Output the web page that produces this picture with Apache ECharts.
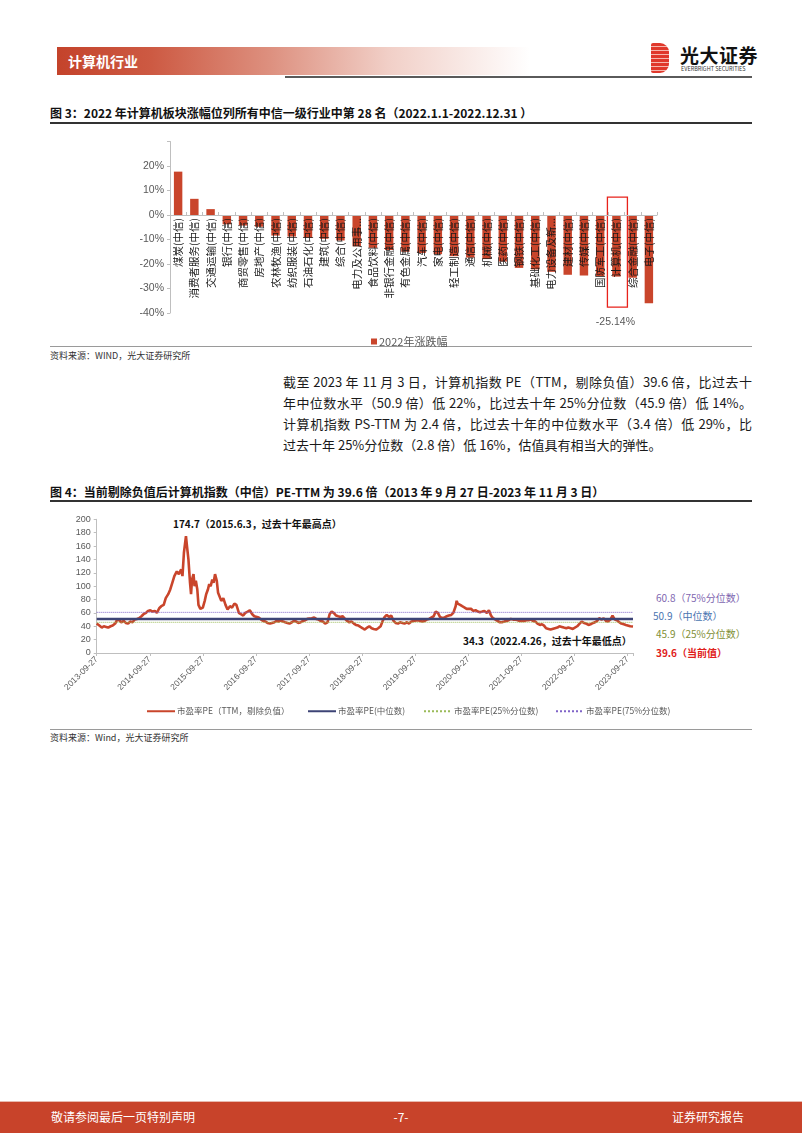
<!DOCTYPE html>
<html><head><meta charset="utf-8">
<script src="https://cdn.jsdelivr.net/npm/echarts@6/dist/echarts.min.js"></script>
<style>
html,body{margin:0;padding:0;background:#fff;}
body{width:802px;height:1133px;position:relative;overflow:hidden;font-family:"Noto Sans CJK SC","Noto Sans",sans-serif;color:#1a1a1a;}
.abs{position:absolute;white-space:nowrap;}
.rule{position:absolute;left:50px;width:702px;}
.ftitle{position:absolute;left:50px;font-size:12px;font-weight:bold;color:#111;line-height:16px;}
.src{position:absolute;left:50px;font-size:9px;color:#333;line-height:12px;}
.para{position:absolute;left:283px;width:469px;font-size:13px;line-height:21px;color:#1a1a1a;}
.para div{text-align:justify;text-align-last:justify;white-space:nowrap;}
.para div.last{text-align-last:left;}
.ann{position:absolute;white-space:nowrap;font-size:10px;font-weight:bold;line-height:12px;}
#chart{position:absolute;left:0;top:0;width:802px;height:1133px;}
</style></head><body>

<!-- header -->
<div class="abs" style="left:57px;top:47px;width:473px;height:28px;background:linear-gradient(to right,#C4432B 0%,#CD5A43 20%,#DD907F 45%,#F1CFC7 70%,#FFFFFF 100%);"></div>
<div class="abs" style="left:68px;top:51px;font-size:14px;font-weight:bold;color:#fff;line-height:20px;">计算机行业</div>
<div class="abs" style="left:285px;top:76px;width:467px;height:2px;background:#5a5a5a;"></div>
<div class="abs" style="left:651px;top:43px;width:18px;height:30px;border-radius:2px 9px 9px 2px;background:repeating-linear-gradient(to bottom,#E0382B 0px,#E0382B 3px,#F6B7AE 3px,#F6B7AE 4px);"></div>
<div class="abs" style="left:680px;top:44px;font-size:19px;font-weight:bold;color:#111;line-height:22px;letter-spacing:0.5px;">光大证券</div>
<div class="abs" style="left:681px;top:66px;font-size:5.5px;color:#333;line-height:7px;">EVERBRIGHT SECURITIES</div>

<!-- figure 3 -->
<div class="ftitle" style="top:105px;">图 3：2022 年计算机板块涨幅位列所有中信一级行业中第 28 名（2022.1.1-2022.12.31 ）</div>
<div class="rule" style="top:122px;height:1.5px;background:#333;"></div>
<div class="rule" style="top:346px;height:1px;background:#9a9a9a;"></div>
<div class="src" style="top:350px;">资料来源：WIND，光大证券研究所</div>

<div class="para" style="top:371px;">
<div>截至 2023 年 11 月 3 日，计算机指数 PE（TTM，剔除负值）39.6 倍，比过去十</div>
<div>年中位数水平（50.9 倍）低 22%，比过去十年 25%分位数（45.9 倍）低 14%。</div>
<div>计算机指数 PS-TTM 为 2.4 倍，比过去十年的中位数水平（3.4 倍）低 29%，比</div>
<div class="last">过去十年 25%分位数（2.8 倍）低 16%，估值具有相当大的弹性。</div>
</div>

<!-- figure 4 -->
<div class="ftitle" style="top:484px;">图 4：当前剔除负值后计算机指数（中信）PE-TTM 为 39.6 倍（2013 年 9 月 27 日-2023 年 11 月 3 日）</div>
<div class="rule" style="top:500px;height:1.5px;background:#333;"></div>
<div class="ann" style="left:173px;top:518px;color:#111;">174.7（2015.6.3，过去十年最高点）</div>
<div class="ann" style="left:463px;top:635px;color:#111;">34.3（2022.4.26，过去十年最低点）</div>
<div class="ann" style="left:656px;top:592px;color:#7E66B0;font-weight:normal;">60.8（75%分位数）</div>
<div class="ann" style="left:653px;top:610px;color:#4A74B0;font-weight:normal;">50.9（中位数）</div>
<div class="ann" style="left:656px;top:628px;color:#7F8F35;font-weight:normal;">45.9（25%分位数）</div>
<div class="ann" style="left:656px;top:647px;color:#E0201B;">39.6（当前值）</div>
<div class="rule" style="top:729px;height:1px;background:#9a9a9a;"></div>
<div class="src" style="top:732px;">资料来源：Wind，光大证券研究所</div>

<!-- footer -->
<div class="abs" style="left:0;top:1101px;width:802px;height:1px;background:#E8B9AE;"></div>
<div class="abs" style="left:0;top:1102px;width:802px;height:31px;background:#C8432A;"></div>
<div class="abs" style="left:51px;top:1108px;font-size:12px;color:#fff;line-height:18px;">敬请参阅最后一页特别声明</div>
<div class="abs" style="left:391px;top:1108px;width:20px;text-align:center;font-size:12px;color:#fff;line-height:18px;">-7-</div>
<div class="abs" style="left:672px;top:1108px;font-size:12px;color:#fff;line-height:18px;">证券研究报告</div>

<div id="chart"></div>
<script>
// ---------- Figure 3 data ----------
const categories = ['煤炭(中信)','消费者服务(中信)','交通运输(中信)','银行(中信)','商贸零售(中信)','房地产(中信)',
 '农林牧渔(中信)','纺织服装(中信)','石油石化(中信)','建筑(中信)','综合(中信)','电力及公用事业(中信)',
 '食品饮料(中信)','非银行金融(中信)','有色金属(中信)','汽车(中信)','家电(中信)','轻工制造(中信)',
 '通信(中信)','机械(中信)','医药(中信)','钢铁(中信)','基础化工(中信)','电力设备及新能源(中信)',
 '建材(中信)','传媒(中信)','国防军工(中信)','计算机(中信)','综合金融(中信)','电子(中信)'];
const change2022 = [17.7,6.6,2.4,-3.8,-4.3,-4.8,-8.4,-8.8,-9.3,-9.7,-10.4,-12.8,
 -13.4,-14.3,-15.0,-15.5,-16.0,-16.8,-17.4,-18.0,-19.0,-21.6,-22.2,-23.2,
 -24.4,-24.7,-25.0,-25.14,-25.6,-36.0];
const highlightCategory = '计算机(中信)';

// ---------- Figure 4 data ----------
const peDates = ['2013-09-27','2013-10-15','2013-11-01','2013-11-15','2013-12-01','2013-12-15',
'2014-01-01','2014-01-15','2014-02-01','2014-02-15','2014-03-01','2014-03-15','2014-04-01','2014-04-15','2014-05-01','2014-05-15','2014-06-01','2014-06-15','2014-07-01','2014-07-15','2014-08-01','2014-08-15','2014-09-01','2014-09-15','2014-10-01','2014-10-15','2014-11-01','2014-11-15','2014-12-01','2014-12-15',
'2015-01-01','2015-01-15','2015-02-01','2015-02-15','2015-03-01','2015-03-15','2015-04-01','2015-04-15','2015-05-01','2015-05-10','2015-05-20','2015-06-03','2015-06-10','2015-06-20','2015-07-01','2015-07-08','2015-07-15','2015-07-25','2015-08-01','2015-08-10','2015-08-20','2015-08-28','2015-09-10','2015-09-27','2015-10-10','2015-10-20','2015-11-01','2015-11-10','2015-11-20','2015-12-01','2015-12-10','2015-12-20',
'2016-01-01','2016-01-10','2016-01-20','2016-02-01','2016-02-15','2016-03-01','2016-03-15','2016-04-01','2016-04-15','2016-05-01','2016-05-15','2016-06-01','2016-06-15','2016-07-01','2016-07-15','2016-08-01','2016-08-15','2016-09-01','2016-09-15','2016-09-27','2016-10-15','2016-11-01','2016-11-15','2016-12-01','2016-12-15',
'2017-01-01','2017-01-15','2017-02-01','2017-02-15','2017-03-01','2017-03-15','2017-04-01','2017-04-15','2017-05-01','2017-05-15','2017-06-01','2017-06-15','2017-07-01','2017-07-15','2017-08-01','2017-08-15','2017-09-01','2017-09-15','2017-09-27','2017-10-15','2017-11-01','2017-11-15','2017-12-01','2017-12-15',
'2018-01-01','2018-01-15','2018-02-01','2018-02-15','2018-03-01','2018-03-15','2018-04-01','2018-04-15','2018-05-01','2018-05-15','2018-06-01','2018-06-15','2018-07-01','2018-07-15','2018-08-01','2018-08-15','2018-09-01','2018-09-15','2018-10-01','2018-10-15','2018-11-01','2018-11-15','2018-12-01','2018-12-15',
'2019-01-01','2019-01-15','2019-02-01','2019-02-15','2019-03-01','2019-03-15','2019-04-01','2019-04-15','2019-05-01','2019-05-15','2019-06-01','2019-06-15','2019-07-01','2019-07-15','2019-08-01','2019-08-15','2019-09-01','2019-09-15','2019-09-27','2019-10-15','2019-11-01','2019-11-15','2019-12-01','2019-12-15',
'2020-01-01','2020-01-15','2020-02-01','2020-02-15','2020-03-01','2020-03-15','2020-04-01','2020-04-15','2020-05-01','2020-05-15','2020-06-01','2020-06-15','2020-07-01','2020-07-08','2020-07-15','2020-08-01','2020-08-15','2020-09-01','2020-09-15','2020-09-27','2020-10-15','2020-11-01','2020-11-15','2020-12-01','2020-12-15',
'2021-01-01','2021-01-15','2021-02-01','2021-02-15','2021-03-01','2021-03-15','2021-04-01','2021-04-15','2021-05-01','2021-05-15','2021-06-01','2021-06-15','2021-07-01','2021-07-15','2021-08-01','2021-08-15','2021-09-01','2021-09-15','2021-09-27','2021-10-15','2021-11-01','2021-11-15','2021-12-01','2021-12-15',
'2022-01-01','2022-01-15','2022-02-01','2022-02-15','2022-03-01','2022-03-15','2022-04-01','2022-04-15','2022-04-26','2022-05-15','2022-06-01','2022-06-15','2022-07-01','2022-07-15','2022-08-01','2022-08-15','2022-09-01','2022-09-15','2022-09-27','2022-10-15','2022-11-01','2022-11-15','2022-12-01','2022-12-15',
'2023-01-01','2023-01-15','2023-02-01','2023-02-15','2023-03-01','2023-03-15','2023-04-01','2023-04-15','2023-05-01','2023-05-15','2023-06-01','2023-06-15','2023-07-01','2023-07-15','2023-08-01','2023-08-15','2023-09-01','2023-09-15','2023-09-27','2023-10-15','2023-11-03'];
const peValues = [44,41,38,40,39,38,
40,41,44,50,49,46,48,45,44,47,46,50,51,52,55,58,60,63,64,62,63,60,67,70,
72,82,88,95,105,115,122,118,125,115,150,174.7,160,140,105,88,110,118,100,108,95,72,66,68,78,88,95,103,100,110,105,118,
108,90,88,78,82,72,65,70,68,74,72,60,58,56,60,62,64,58,55,56,53,50,48,47,45,
44,45,46,48,47,49,47,46,45,44,46,48,47,45,46,48,49,51,50,52,53,51,50,48,
47,44,46,58,62,60,56,55,54,55,51,48,46,47,44,42,41,39,37,35,38,40,37,36,
35,37,40,48,54,57,54,56,48,45,44,46,45,44,46,44,47,48,48,49,48,47,48,50,
51,53,55,62,60,54,52,53,55,56,57,60,70,78,74,72,70,68,66,65,66,63,64,62,61,
62,63,60,64,56,52,50,48,46,46,47,48,49,51,50,50,49,48,47,48,49,49,50,48,
47,44,42,43,41,37,36,35,34.3,37,38,40,39,38,37,38,37,36,36,40,44,47,45,44,
42,43,45,46,48,52,50,52,48,47,50,56,50,49,46,44,43,42,41,40,39.6];
const peMedian = 50.9, pe25 = 45.9, pe75 = 60.8;
const xTickLabels = ['2013-09-27','2014-09-27','2015-09-27','2016-09-27','2017-09-27','2018-09-27','2019-09-27','2020-09-27','2021-09-27','2022-09-27','2023-09-27'];
const seriesNames = ['市盈率PE（TTM，剔除负值）','市盈率PE(中位数)','市盈率PE(25%分位数)','市盈率PE(75%分位数)'];

// ---------- build ----------
const DAY = 86400000;
const t0 = Date.parse(xTickLabels[0]);
const toDay = d => (Date.parse(d) - t0) / DAY;
const peData = peDates.map((d, i) => [toDay(d), peValues[i]]);
const lastDay = toDay(peDates[peDates.length - 1]);
const yearStep = 365.2;
const flat = v => [[0, v], [lastDay, v]];

const chart = echarts.init(document.getElementById('chart'), null, {renderer: 'canvas'});
const axisGray = '#BFBFBF';
const labelGray = '#595959';
const barColor = '#C9452B';

const g1 = {left: 170, top: 141.5, width: 487, height: 171.5};
const y1min = -40, y1max = 30;
const zeroOffset = -g1.height * (0 - y1min) / (y1max - y1min);

const legendPos2 = [141, 302, 418, 550];
const lineColors = [barColor, '#3D4476', '#9BBB59', '#8064C8'];

const option = {
  animation: false,
  backgroundColor: 'transparent',
  textStyle: {fontFamily: '"Noto Sans CJK SC", sans-serif'},
  grid: [
    Object.assign({containLabel: false}, g1),
    {left: 96.7, top: 519.3, width: 536.3, height: 133.7, containLabel: false}
  ],
  legend: [
    {data: ['2022年涨跌幅'], left: 366, top: 331, icon: 'rect', itemWidth: 6, itemHeight: 6, itemGap: 4,
     textStyle: {fontSize: 11, color: labelGray, padding: [0, 0, 0, -3]}}
  ].concat(seriesNames.map((n, i) => ({
     data: [n], left: legendPos2[i], top: 702, itemWidth: 28, itemHeight: 8,
     itemStyle: {opacity: 0},
     textStyle: {fontSize: 8.5, color: labelGray, padding: [0, 0, 0, -3]}}))),
  xAxis: [
    {type: 'category', gridIndex: 0, data: categories, offset: zeroOffset, z: 10,
     axisLine: {onZero: false, lineStyle: {color: axisGray, width: 1}},
     axisTick: {show: true, inside: true, length: 3, lineStyle: {color: axisGray}},
     axisLabel: {interval: 0, rotate: 90, margin: 3, fontSize: 10.5, color: '#1a1a1a',
       width: 82, overflow: 'truncate', ellipsis: '...'}},
    {type: 'value', gridIndex: 1, min: 0, max: lastDay, interval: yearStep,
     axisLine: {show: true, lineStyle: {color: axisGray}},
     axisTick: {show: true, length: 3, lineStyle: {color: axisGray}},
     splitLine: {show: false}, showMaxLabel: false,
     axisLabel: {rotate: 45, margin: 5, fontSize: 8.5, color: labelGray, fontFamily: 'Liberation Sans, Arial',
       formatter: v => {const k = Math.round(v / yearStep); return Math.abs(v - k * yearStep) < 1 && xTickLabels[k] ? xTickLabels[k] : '';}}}
  ],
  yAxis: [
    {type: 'value', gridIndex: 0, min: y1min, max: y1max, interval: 10,
     axisLine: {show: true, lineStyle: {color: axisGray}},
     axisTick: {show: true, length: 3, lineStyle: {color: axisGray}},
     splitLine: {show: false},
     axisLabel: {fontSize: 10.5, color: labelGray, margin: 6, fontFamily: 'Liberation Sans, Arial',
       formatter: v => v >= 30 ? '' : v + '%'}},
    {type: 'value', gridIndex: 1, min: 0, max: 200, interval: 20,
     axisLine: {show: true, lineStyle: {color: axisGray}},
     axisTick: {show: true, length: 3, lineStyle: {color: axisGray}},
     splitLine: {show: false},
     axisLabel: {fontSize: 9, color: labelGray, margin: 6, fontFamily: 'Liberation Sans, Arial'}}
  ],
  series: [
    {name: '2022年涨跌幅', type: 'bar', xAxisIndex: 0, yAxisIndex: 0, data: change2022,
     barWidth: '52%', itemStyle: {color: barColor}, z: 1},
    {name: seriesNames[0], type: 'line', xAxisIndex: 1, yAxisIndex: 1, data: peData,
     symbol: 'none', lineStyle: {color: lineColors[0], width: 2.6}, itemStyle: {color: lineColors[0]}, z: 2},
    {name: seriesNames[1], type: 'line', xAxisIndex: 1, yAxisIndex: 1, data: flat(peMedian),
     symbol: 'none', lineStyle: {color: lineColors[1], width: 2.5}, itemStyle: {color: lineColors[1]}, z: 3},
    {name: seriesNames[2], type: 'line', xAxisIndex: 1, yAxisIndex: 1, data: flat(pe25),
     symbol: 'none', lineStyle: {color: lineColors[2], width: 1, type: 'dotted'}, itemStyle: {color: lineColors[2]}, z: 3},
    {name: seriesNames[3], type: 'line', xAxisIndex: 1, yAxisIndex: 1, data: flat(pe75),
     symbol: 'none', lineStyle: {color: lineColors[3], width: 1, type: 'dotted'}, itemStyle: {color: lineColors[3]}, z: 3}
  ]
};
chart.setOption(option);

// highlight box around the computer category and its value label
const hi = categories.indexOf(highlightCategory);
const cx = chart.convertToPixel({xAxisIndex: 0}, hi);
const yTop = chart.convertToPixel({yAxisIndex: 0}, 7.3);
const yBot = chart.convertToPixel({yAxisIndex: 0}, -37.6);
const yTxt = chart.convertToPixel({yAxisIndex: 0}, -43.7);
chart.setOption({graphic: [
  {type: 'rect', shape: {x: cx - 9, y: yTop, width: 20, height: yBot - yTop},
   style: {fill: 'none', stroke: '#E8221B', lineWidth: 1.3}, z: 10},
  {type: 'text', x: cx - 1, y: yTxt, style: {text: change2022[hi].toFixed(2) + '%', fill: labelGray, fontSize: 10.5,
   fontFamily: 'Liberation Sans, Arial', align: 'center', verticalAlign: 'middle'}, z: 10}
]});
</script>
</body></html>
